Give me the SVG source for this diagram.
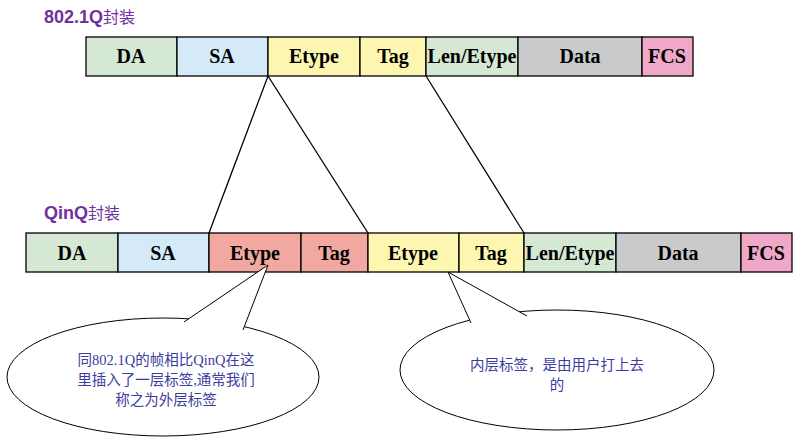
<svg xmlns="http://www.w3.org/2000/svg" width="804" height="442" viewBox="0 0 804 442">
<style>
.b{stroke:#000;stroke-width:1.3}
.f{font-family:"Liberation Serif",serif;font-weight:bold;font-size:20px;text-anchor:middle}
.t{font-family:"Liberation Sans",Arial,sans-serif;font-weight:bold;font-size:18px;fill:#7030a0}
.c{font-family:"Liberation Serif","Noto Sans CJK SC",serif;font-size:14.5px;fill:#3c3ca0;text-anchor:middle}
.e{fill:#fff;stroke:#000;stroke-width:1}
.g{fill:#d5e8d4}.s{fill:#d4eaf8}.y{fill:#fdf6b0}.r{fill:#f0a8a0}.d{fill:#c8cacc}.p{fill:#f0a8c8}
</style>
<rect width="804" height="442" fill="#fff"/>
<text class="t" x="44" y="23">802.1Q<tspan font-family="Noto Sans CJK SC,sans-serif" font-weight="normal" font-size="16">封装</tspan></text>
<text class="t" x="44" y="219">QinQ<tspan font-family="Noto Sans CJK SC,sans-serif" font-weight="normal" font-size="16">封装</tspan></text>
<g id="top">
<rect class="b g" x="86" y="37" width="91" height="39"/><text class="f" x="131" y="63">DA</text>
<rect class="b s" x="177" y="37" width="91" height="39"/><text class="f" x="222" y="63">SA</text>
<rect class="b y" x="268" y="37" width="92" height="39"/><text class="f" x="314" y="63">Etype</text>
<rect class="b y" x="360" y="37" width="66" height="39"/><text class="f" x="393" y="63">Tag</text>
<rect class="b g" x="426" y="37" width="92" height="39"/><text class="f" x="472" y="63">Len/Etype</text>
<rect class="b d" x="518" y="37" width="124" height="39"/><text class="f" x="580" y="63">Data</text>
<rect class="b p" x="642" y="37" width="51" height="39"/><text class="f" x="667" y="63">FCS</text>
</g>
<g id="bottom">
<rect class="b g" x="26" y="233" width="92" height="39"/><text class="f" x="72" y="260">DA</text>
<rect class="b s" x="118" y="233" width="91" height="39"/><text class="f" x="163" y="260">SA</text>
<rect class="b r" x="209" y="233" width="92" height="39"/><text class="f" x="255" y="260">Etype</text>
<rect class="b r" x="301" y="233" width="67" height="39"/><text class="f" x="334" y="260">Tag</text>
<rect class="b y" x="368" y="233" width="91" height="39"/><text class="f" x="413" y="260">Etype</text>
<rect class="b y" x="459" y="233" width="65" height="39"/><text class="f" x="491" y="260">Tag</text>
<rect class="b g" x="524" y="233" width="92" height="39"/><text class="f" x="570" y="260">Len/Etype</text>
<rect class="b d" x="616" y="233" width="125" height="39"/><text class="f" x="678" y="260">Data</text>
<rect class="b p" x="741" y="233" width="51" height="39"/><text class="f" x="766" y="260">FCS</text>
</g>
<g id="connectors" stroke="#000" stroke-width="1.3" fill="none">
<line x1="268" y1="76" x2="209" y2="233"/>
<line x1="268" y1="76" x2="368" y2="233"/>
<line x1="426" y1="76" x2="524" y2="233"/>
</g>
<g id="callout1">
<ellipse class="e" cx="163" cy="377" rx="156" ry="59"/>
<path d="M184,322 L268,265 L243,330" fill="#fff" stroke="#000" stroke-width="1"/>
<text class="c" x="166" y="365">同802.1Q的帧相比QinQ在这</text>
<text class="c" x="166" y="385">里插入了一层标签,通常我们</text>
<text class="c" x="166" y="405">称之为外层标签</text>
</g>
<g id="callout2">
<ellipse class="e" cx="557" cy="370" rx="157" ry="60"/>
<path d="M471,323 L448,272 L527,316" fill="#fff" stroke="#000" stroke-width="1"/>
<text class="c" x="557" y="370">内层标签，是由用户打上去</text>
<text class="c" x="557" y="390">的</text>
</g>
</svg>
